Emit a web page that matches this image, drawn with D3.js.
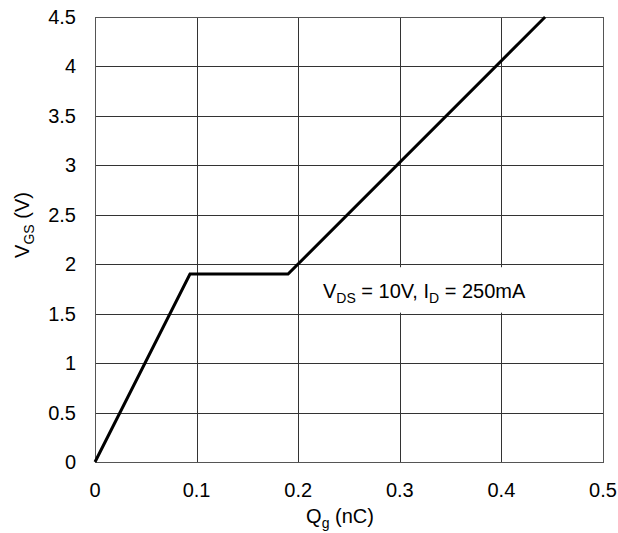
<!DOCTYPE html>
<html>
<head>
<meta charset="utf-8">
<script src="https://cdn.jsdelivr.net/npm/d3@7"></script>
<style>
  body { margin: 0; background: #fff; }
  text { font-family: "Liberation Sans", Arial, sans-serif; fill: #000; }
</style>
</head>
<body>
<div id="chart"></div>
<script>
// gate charge curve, Qg (nC) vs VGS (V)
var qg = [0, 0.0935, 0.19, 0.443];
var vgs = [0, 1.9, 1.9, 4.5];
var xTicks = [0, 0.1, 0.2, 0.3, 0.4, 0.5];
var yTicks = [0, 0.5, 1, 1.5, 2, 2.5, 3, 3.5, 4, 4.5];

var margin = {top: 17, right: 15, bottom: 71, left: 95},
    width = 618 - margin.left - margin.right,
    height = 533 - margin.top - margin.bottom;

var svg = d3.select("#chart")
  .append("svg")
    .attr("width", 618)
    .attr("height", 533)
  .append("g")
    .attr("transform", "translate(" + margin.left + "," + margin.top + ")");

var x = d3.scaleLinear().domain([0, 0.5]).range([0, width]);
var y = d3.scaleLinear().domain([0, 4.5]).range([height, 0]);

// grid lines
svg.append("g")
  .selectAll("line")
  .data(xTicks)
  .enter().append("line")
    .attr("x1", function(d) { return Math.round(x(d)) + 0.5; })
    .attr("x2", function(d) { return Math.round(x(d)) + 0.5; })
    .attr("y1", 0).attr("y2", height)
    .attr("stroke", "#333").attr("stroke-width", 1);
svg.append("g")
  .selectAll("line")
  .data(yTicks)
  .enter().append("line")
    .attr("x1", 0).attr("x2", width)
    .attr("y1", function(d) { return Math.round(y(d)) + 0.5; })
    .attr("y2", function(d) { return Math.round(y(d)) + 0.5; })
    .attr("stroke", "#333").attr("stroke-width", 1);

// frame
svg.append("rect")
  .attr("x", 0.5).attr("y", 0.5)
  .attr("width", width).attr("height", height)
  .attr("fill", "none").attr("stroke", "#555");

// tick labels
svg.append("g")
  .selectAll("text")
  .data(xTicks)
  .enter().append("text")
    .attr("x", function(d) { return x(d); })
    .attr("y", height + 35)
    .attr("text-anchor", "middle")
    .style("font-size", "20px")
    .text(function(d) { return d3.format("")(d); });
svg.append("g")
  .selectAll("text")
  .data(yTicks)
  .enter().append("text")
    .attr("x", -19)
    .attr("y", function(d) { return y(d) + 7; })
    .attr("text-anchor", "end")
    .style("font-size", "20px")
    .text(function(d) { return d; });

// annotation box
svg.append("rect")
  .attr("x", x(0.2) + 3).attr("y", y(2) + 3)
  .attr("width", 255).attr("height", y(1.5) - y(2) - 4)
  .attr("fill", "#fff");
var note = svg.append("text")
  .attr("x", 228).attr("y", 281)
  .style("font-size", "20px");
note.append("tspan").text("V");
note.append("tspan").attr("dy", 5).style("font-size", "14px").text("DS");
note.append("tspan").attr("dy", -5).text(" = 10V, I");
note.append("tspan").attr("dy", 5).style("font-size", "14px").text("D");
note.append("tspan").attr("dy", -5).text(" = 250mA");

// curve
var line = d3.line()
  .x(function(d) { return x(d[0]); })
  .y(function(d) { return y(d[1]); });
svg.append("path")
  .datum(d3.zip(qg, vgs))
  .attr("d", line)
  .attr("fill", "none")
  .attr("stroke", "#000")
  .attr("stroke-width", 3)
  .attr("stroke-linejoin", "miter");

// axis titles
var xt = svg.append("text")
  .attr("x", width / 2 - 9).attr("y", height + 61)
  .attr("text-anchor", "middle")
  .style("font-size", "20px");
xt.append("tspan").text("Q");
xt.append("tspan").attr("dy", 5).style("font-size", "14px").text("g");
xt.append("tspan").attr("dy", -5).text(" (nC)");

var yt = svg.append("text")
  .attr("transform", "translate(-66,208) rotate(-90)")
  .attr("text-anchor", "middle")
  .style("font-size", "20px");
yt.append("tspan").text("V");
yt.append("tspan").attr("dy", 5).style("font-size", "14px").text("GS");
yt.append("tspan").attr("dy", -5).text(" (V)");
</script>
</body>
</html>
